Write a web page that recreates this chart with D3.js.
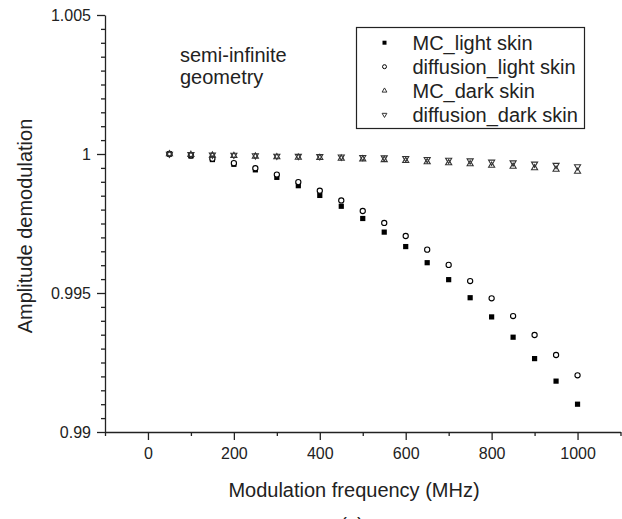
<!DOCTYPE html>
<html>
<head>
<meta charset="utf-8">
<script src="https://cdn.jsdelivr.net/npm/d3@7"></script>
<style>
  html, body { margin: 0; padding: 0; background: #fff; }
  svg { display: block; font-family: "Liberation Sans", Arial, Helvetica, sans-serif; }
</style>
</head>
<body>
<svg id="chart" width="622" height="519"></svg>
<script>
// ---- data ----
const frequencies = [50, 100, 150, 200, 250, 300, 350, 400, 450, 500, 550, 600, 650, 700, 750, 800, 850, 900, 950, 1000];
const mcLight = [1.00000, 0.99993, 0.99980, 0.99963, 0.99943, 0.99916, 0.99886, 0.99851, 0.99812, 0.99768,
                 0.99719, 0.99667, 0.99609, 0.99548, 0.99483, 0.99414, 0.99341, 0.99264, 0.99183, 0.99100];
const diffLight = [1.00000, 0.99995, 0.99983, 0.99967, 0.99949, 0.99926, 0.99899, 0.99868, 0.99833, 0.99795,
                   0.99752, 0.99705, 0.99656, 0.99601, 0.99543, 0.99481, 0.99417, 0.99349, 0.99277, 0.99204];
const mcDark = [1.00000, 0.999975, 0.99995, 0.999935, 0.999915, 0.99989, 0.999875, 0.999865, 0.99984, 0.999815,
                0.99979, 0.999755, 0.99971, 0.999675, 0.99964, 0.999585, 0.99955, 0.999495, 0.99944, 0.99937];
const diffDark = [1.00000, 0.999985, 0.99997, 0.999965, 0.999945, 0.99993, 0.999925, 0.999915, 0.99990, 0.999885,
                  0.99987, 0.999845, 0.99981, 0.999785, 0.99976, 0.999715, 0.99969, 0.999645, 0.99960, 0.99955];
const seriesNames = ["MC_light skin", "diffusion_light skin", "MC_dark skin", "diffusion_dark skin"];
const xMajorTicks = [0, 200, 400, 600, 800, 1000];
const xMinorTicks = [-100, 100, 300, 500, 700, 900, 1100];
const yMajorTicks = [0.99, 0.995, 1, 1.005];
const yTickLabels = ["0.99", "0.995", "1", "1.005"];
const annotation = ["semi-infinite", "geometry"];

// ---- layout ----
const svg = d3.select("#chart");
const ink = "#222";
const x = d3.scaleLinear().domain([-100, 1100]).range([105, 620.5]);
const y = d3.scaleLinear().domain([0.99, 1.005]).range([432, 15]);

const yMinor = d3.range(0, 31).map(i => 0.99 + i * 0.0005).filter(v => !yMajorTicks.some(t => Math.abs(t - v) < 1e-9));

// x axis
const xAxisMajor = d3.axisBottom(x).tickValues(xMajorTicks).tickSize(8).tickSizeOuter(0).tickFormat(d3.format("d"));
const gx = svg.append("g").attr("transform", `translate(0,${y(0.99)})`).call(xAxisMajor);
gx.attr("font-family", null);
gx.select(".domain").attr("stroke", ink).attr("stroke-width", 1.3);
gx.selectAll(".tick line").attr("stroke", ink).attr("stroke-width", 1.3);
gx.selectAll(".tick text").attr("fill", ink).attr("font-size", 16).attr("dy", null).attr("y", 0)
  .attr("transform", "translate(0,27)");
const gxm = svg.append("g").attr("transform", `translate(0,${y(0.99)})`)
  .call(d3.axisBottom(x).tickValues(xMinorTicks).tickSize(4).tickSizeOuter(0).tickFormat(""));
gxm.select(".domain").remove();
gxm.selectAll(".tick line").attr("stroke", ink).attr("stroke-width", 1.3);

// y axis
const yAxisMajor = d3.axisLeft(y).tickValues(yMajorTicks).tickSize(8).tickSizeOuter(0)
  .tickFormat((d, i) => yTickLabels[i]);
const gy = svg.append("g").attr("transform", `translate(${x(-100)},0)`).call(yAxisMajor);
gy.attr("font-family", null);
gy.select(".domain").attr("stroke", ink).attr("stroke-width", 1.3);
gy.selectAll(".tick line").attr("stroke", ink).attr("stroke-width", 1.3);
gy.selectAll(".tick text").attr("fill", ink).attr("font-size", 16).attr("x", -14).attr("dy", "0.35em");
const gym = svg.append("g").attr("transform", `translate(${x(-100)},0)`)
  .call(d3.axisLeft(y).tickValues(yMinor).tickSize(4).tickSizeOuter(0).tickFormat(""));
gym.select(".domain").remove();
gym.selectAll(".tick line").attr("stroke", ink).attr("stroke-width", 1.3);

// axis titles
svg.append("text").attr("x", 354).attr("y", 497).attr("text-anchor", "middle")
  .attr("font-size", 20).attr("fill", ink).text("Modulation frequency (MHz)");
svg.append("text").attr("transform", "translate(32,226) rotate(-90)").attr("text-anchor", "middle")
  .attr("font-size", 20).attr("fill", ink).text("Amplitude demodulation");
svg.append("text").attr("x", 352).attr("y", 532).attr("text-anchor", "middle")
  .attr("font-size", 20).attr("fill", ink).text("(c)");

// annotation
svg.append("text").attr("x", 180).attr("y", 62).attr("font-size", 20).attr("fill", ink).text(annotation[0]);
svg.append("text").attr("x", 180).attr("y", 83.5).attr("font-size", 20).attr("fill", ink).text(annotation[1]);

// ---- markers ----
const pts = (vals) => frequencies.map((f, i) => ({ f, v: vals[i] }));
const tri = d3.symbol().type(d3.symbolTriangle).size(16);

const gMarks = svg.append("g");
// MC light: filled squares
gMarks.append("g").selectAll("rect").data(pts(mcLight)).join("rect")
  .attr("x", d => x(d.f) - 2.6).attr("y", d => y(d.v) - 2.6).attr("width", 5.2).attr("height", 5.2).attr("fill", "#000");
// diffusion light: open circles
gMarks.append("g").selectAll("circle").data(pts(diffLight)).join("circle")
  .attr("cx", d => x(d.f)).attr("cy", d => y(d.v)).attr("r", 2.6)
  .attr("fill", "#fff").attr("stroke", "#000").attr("stroke-width", 1.1);
// MC dark: open up-triangles
gMarks.append("g").selectAll("path").data(pts(mcDark)).join("path")
  .attr("d", tri).attr("transform", d => `translate(${x(d.f)},${y(d.v)})`)
  .attr("fill", "none").attr("stroke", "#333").attr("stroke-width", 1.1);
// diffusion dark: open down-triangles
gMarks.append("g").selectAll("path").data(pts(diffDark)).join("path")
  .attr("d", tri).attr("transform", d => `translate(${x(d.f)},${y(d.v)}) rotate(180)`)
  .attr("fill", "none").attr("stroke", "#333").attr("stroke-width", 1.1);

// ---- legend ----
const lg = svg.append("g");
lg.append("rect").attr("x", 356.5).attr("y", 27.5).attr("width", 228).attr("height", 101)
  .attr("fill", "#fff").attr("stroke", ink).attr("stroke-width", 1.2);
const rowY = [42.7, 66.7, 90.7, 114.7];
const symX = 384.5;
const legTri = d3.symbol().type(d3.symbolTriangle).size(10);
seriesNames.forEach((name, i) => {
  const cy = rowY[i];
  if (i === 0) {
    lg.append("rect").attr("x", symX - 2).attr("y", cy - 2).attr("width", 4).attr("height", 4).attr("fill", "#000");
  } else if (i === 1) {
    lg.append("circle").attr("cx", symX).attr("cy", cy).attr("r", 2).attr("fill", "#fff").attr("stroke", "#000").attr("stroke-width", 1);
  } else if (i === 2) {
    lg.append("path").attr("d", legTri).attr("transform", `translate(${symX},${cy})`)
      .attr("fill", "none").attr("stroke", "#333").attr("stroke-width", 1);
  } else {
    lg.append("path").attr("d", legTri).attr("transform", `translate(${symX},${cy}) rotate(180)`)
      .attr("fill", "none").attr("stroke", "#333").attr("stroke-width", 1);
  }
  lg.append("text").attr("x", 412.5).attr("y", cy).attr("dy", "0.35em")
    .attr("font-size", 20).attr("fill", ink).text(name);
});
</script>
</body>
</html>
